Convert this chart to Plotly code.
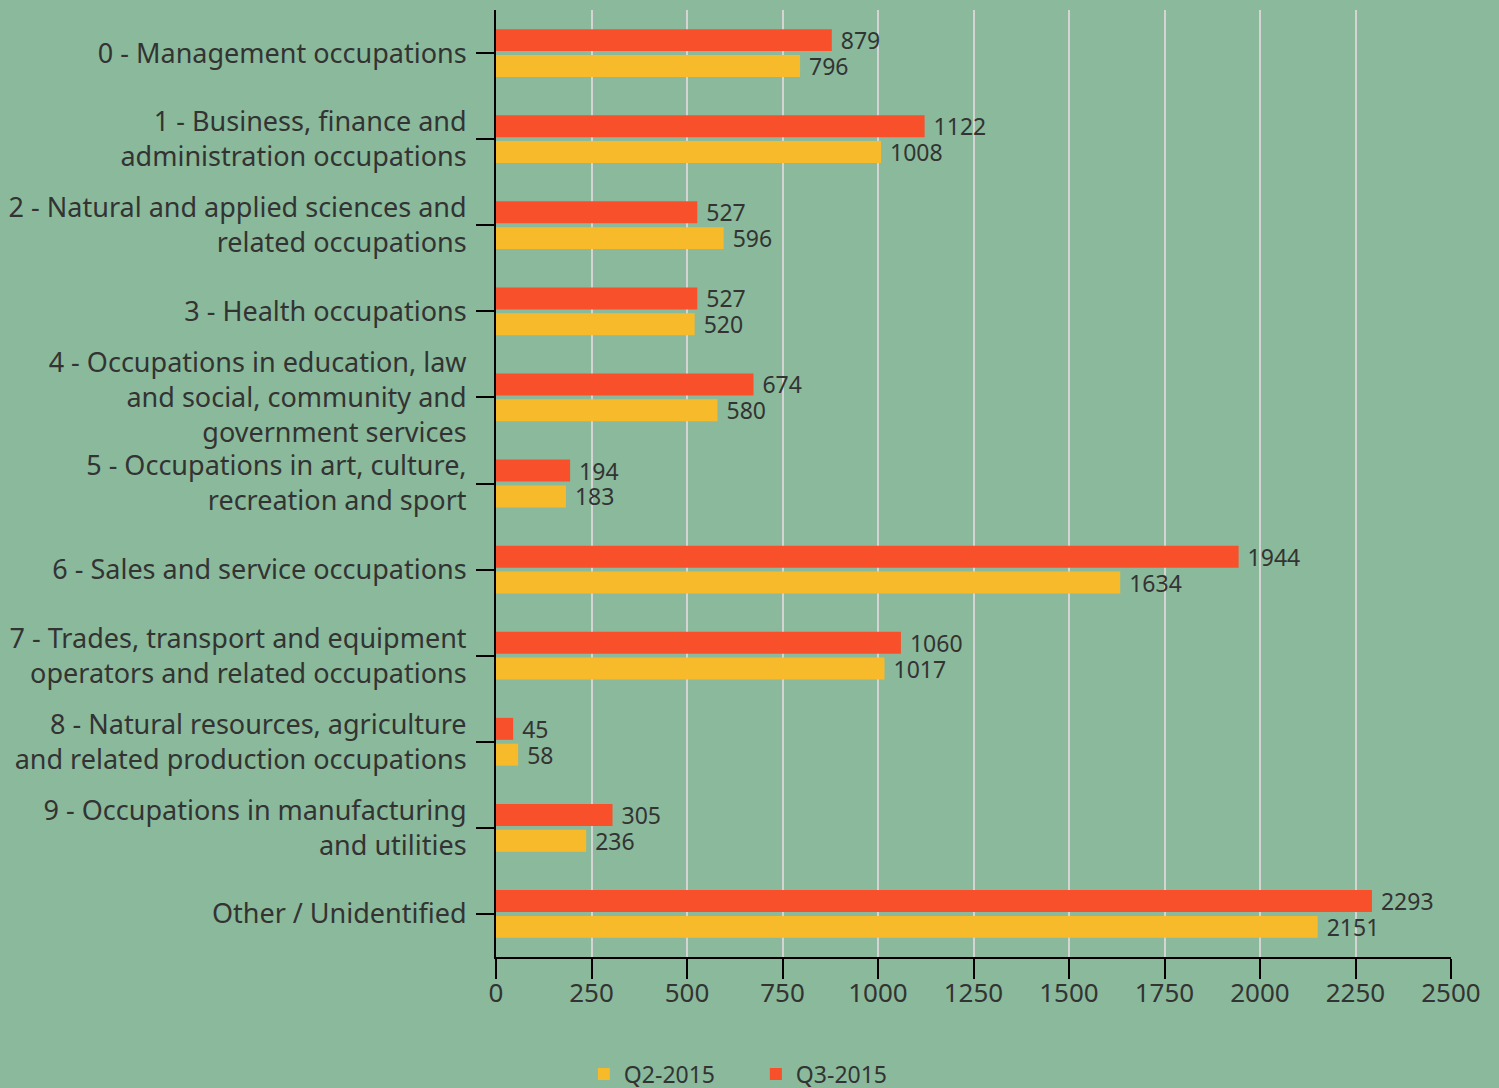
import plotly.graph_objects as go

categories = [
    "0 - Management occupations",
    "1 - Business, finance and<br>administration occupations",
    "2 - Natural and applied sciences and<br>related occupations",
    "3 - Health occupations",
    "4 - Occupations in education, law<br>and social, community and<br>government services",
    "5 - Occupations in art, culture,<br>recreation and sport",
    "6 - Sales and service occupations",
    "7 - Trades, transport and equipment<br>operators and related occupations",
    "8 - Natural resources, agriculture<br>and related production occupations",
    "9 - Occupations in manufacturing<br>and utilities",
    "Other / Unidentified",
]
q2_2015 = [796, 1008, 596, 520, 580, 183, 1634, 1017, 58, 236, 2151]
q3_2015 = [879, 1122, 527, 527, 674, 194, 1944, 1060, 45, 305, 2293]
x_ticks = [0, 250, 500, 750, 1000, 1250, 1500, 1750, 2000, 2250, 2500]

FONT = "Noto Sans"
TXT = "#333333"
BG = "#8aba9b"

fig = go.Figure()
fig.add_trace(go.Bar(
    y=categories, x=q3_2015, orientation="h", name="Q3-2015",
    marker=dict(color="#f7502b", line=dict(width=0)),
    text=[" " + str(v) for v in q3_2015], textposition="outside",
    constraintext="none",
    textfont=dict(family=FONT, size=23, color=TXT), cliponaxis=False,
))
fig.add_trace(go.Bar(
    y=categories, x=q2_2015, orientation="h", name="Q2-2015",
    marker=dict(color="#f7ba2b", line=dict(width=0)),
    text=[" " + str(v) for v in q2_2015], textposition="outside",
    constraintext="none",
    textfont=dict(family=FONT, size=23, color=TXT), cliponaxis=False,
))

fig.update_layout(
    width=1499, height=1088,
    paper_bgcolor=BG, plot_bgcolor=BG,
    margin=dict(l=496, r=48, t=10, b=131, autoexpand=False),
    barmode="group", bargap=0.40, bargroupgap=0.15,
    font=dict(family=FONT, size=27, color=TXT),
    showlegend=True,
    legend=dict(orientation="h", traceorder="reversed",
                x=0.092, xanchor="left",
                y=-0.101, yanchor="top",
                entrywidth=127, entrywidthmode="pixels",
                font=dict(family=FONT, size=23, color=TXT),
                bgcolor="rgba(0,0,0,0)"),
    xaxis=dict(range=[0, 2500], tickvals=x_ticks, ticktext=[str(t) for t in x_ticks],
               showgrid=True, gridcolor="#d4d4d4", gridwidth=2,
               zeroline=False, showline=True, linecolor="black", linewidth=2,
               ticks="outside", ticklen=20, tickwidth=2, tickcolor="black",
               tickangle=0, automargin=False, ticklabelstandoff=-8,
               tickfont=dict(family=FONT, size=26, color=TXT)),
    yaxis=dict(autorange="reversed", showgrid=False, zeroline=False,
               showline=True, linecolor="black", linewidth=2,
               ticks="outside", ticklen=18, tickwidth=2, tickcolor="black",
               automargin=False, ticklabelstandoff=4,
               tickfont=dict(family=FONT, size=27, color=TXT)),
)

fig.write_html("out.html", config={"displayModeBar": False},
               post_script="document.body.style.margin='0';")
